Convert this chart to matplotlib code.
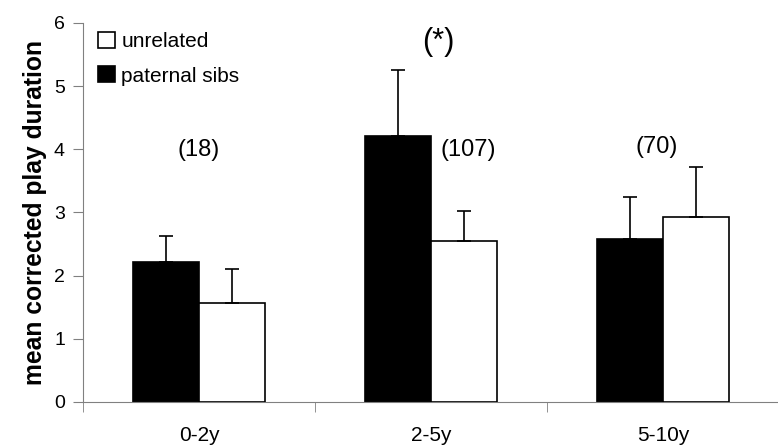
import numpy as np
import matplotlib.pyplot as plt

plt.rcParams['font.family'] = ['Liberation Sans', 'DejaVu Sans']

categories = ['0-2y', '2-5y', '5-10y']
paternal_sibs = [2.22, 4.21, 2.58]
paternal_err = [0.41, 1.04, 0.66]
unrelated = [1.57, 2.55, 2.93]
unrelated_err = [0.54, 0.47, 0.79]
n_labels = ['(18)', '(107)', '(70)']
n_label_x = [0.0, 1.16, 1.97]
n_label_y = [3.99, 3.99, 4.03]
signif = '(*)'

fig = plt.figure(figsize=(7.78, 4.46), dpi=100)
ax = fig.add_axes([0.1067, 0.0987, 0.895, 0.85])

x = np.arange(len(categories))
w = 0.285
err_kw = dict(ecolor='black', elinewidth=1.2, capsize=5, capthick=1.2)
b1 = ax.bar(x - w / 2, paternal_sibs, w, color='black', edgecolor='black',
            linewidth=1.2, yerr=[np.zeros(3), paternal_err], error_kw=err_kw,
            label='paternal sibs')
b2 = ax.bar(x + w / 2, unrelated, w, color='white', edgecolor='black',
            linewidth=1.2, yerr=[np.zeros(3), unrelated_err], error_kw=err_kw,
            label='unrelated', zorder=3)

for xi, yi, s in zip(n_label_x, n_label_y, n_labels):
    ax.text(xi, yi, s, ha='center', va='center', fontsize=17)
ax.text(1.03, 5.7, signif, ha='center', va='center', fontsize=22)

ax.set_xlim(-0.5, 2.5)
ax.set_ylim(0, 6)
ax.set_yticks(range(7))
ax.set_xticks(x)
ax.set_xticklabels(categories, fontsize=15)
ax.set_xticks(np.arange(-0.5, 3.0, 1.0), minor=True)
ax.tick_params(axis='x', which='major', length=0, pad=17)
ax.tick_params(axis='x', which='minor', length=7, direction='out', color='#808080')
ax.tick_params(axis='y', length=7, direction='out', color='#808080', labelsize=14, pad=6)
for s in ['top', 'right']:
    ax.spines[s].set_visible(False)
for s in ['left', 'bottom']:
    ax.spines[s].set_color('#808080')

ax.set_ylabel('mean corrected play duration', fontsize=17.7, fontweight='bold', labelpad=5)

ax.legend(handles=[b2, b1], loc='upper left', frameon=False, fontsize=15,
          handlelength=0.8, handleheight=0.8, handletextpad=0.3,
          labelspacing=0.75, borderaxespad=0.0, bbox_to_anchor=(0.01, 0.999))

fig.savefig('out.png', dpi=100)
